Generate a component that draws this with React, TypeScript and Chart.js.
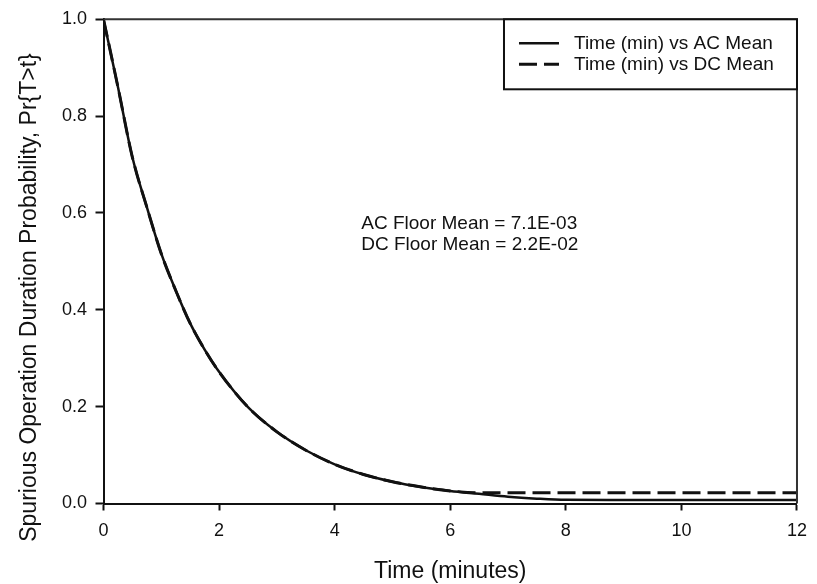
import React, { useEffect, useRef } from 'react';
import { Chart, registerables } from 'chart.js';

Chart.register(...registerables);

// ---- data ----
const timeMin = [0, 0.25, 0.5, 0.75, 1, 1.25, 1.5, 1.75, 2, 2.5, 3, 3.5, 4, 4.5, 5, 5.5, 6, 6.5, 7, 7.5, 8, 9, 10, 11, 12];
const acMean = [1.0, 0.86, 0.715, 0.612, 0.516, 0.44, 0.372, 0.318, 0.272, 0.199, 0.148, 0.11, 0.081, 0.06, 0.045, 0.034, 0.026, 0.02, 0.014, 0.01, 0.0075, 0.0071, 0.0071, 0.0071, 0.0071];
const dcMean = [1.0, 0.86, 0.715, 0.612, 0.516, 0.44, 0.372, 0.318, 0.272, 0.199, 0.148, 0.11, 0.081, 0.06, 0.045, 0.034, 0.026, 0.022, 0.022, 0.022, 0.022, 0.022, 0.022, 0.022, 0.022];
const seriesLabels = ['Time (min) vs AC Mean', 'Time (min) vs DC Mean'];
const xTickValues = [0, 2, 4, 6, 8, 10, 12];
const yTickValues = [0, 0.2, 0.4, 0.6, 0.8, 1.0];
const xTitle = 'Time (minutes)';
const yTitle = 'Spurious Operation Duration Probability, Pr{T>t}';
const annotationLines = ['AC Floor Mean = 7.1E-03', 'DC Floor Mean = 2.2E-02'];
const annotationAt = { x: 4.46, y: 0.577 };

const FONT = "'Liberation Sans', Arial, Helvetica, sans-serif";
const INK = '#111111';

const overlayPlugin = {
  id: 'overlay',
  afterDraw(chart: any) {
    const { ctx, chartArea } = chart;
    const { left, right, top, bottom } = chartArea;
    ctx.save();
    // frame top & right
    ctx.strokeStyle = '#333333';
    ctx.lineWidth = 2;
    ctx.beginPath();
    ctx.moveTo(left, top);
    ctx.lineTo(right, top);
    ctx.lineTo(right, bottom);
    ctx.stroke();

    // legend box
    const lx = right - 293;
    const ly = top;
    const lw = 293;
    const lh = 70;
    ctx.fillStyle = '#ffffff';
    ctx.fillRect(lx, ly, lw, lh);
    ctx.strokeStyle = INK;
    ctx.lineWidth = 2;
    ctx.strokeRect(lx, ly, lw, lh);
    const rows = [ly + 24, ly + 45];
    chart.data.datasets.forEach((ds: any, i: number) => {
      const y = rows[i];
      ctx.strokeStyle = ds.borderColor;
      ctx.lineWidth = ds.borderWidth;
      ctx.setLineDash(ds.borderDash || []);
      ctx.beginPath();
      ctx.moveTo(lx + 15, y);
      ctx.lineTo(lx + 55, y);
      ctx.stroke();
      ctx.setLineDash([]);
      ctx.fillStyle = INK;
      ctx.font = `19px ${FONT}`;
      ctx.textAlign = 'left';
      ctx.textBaseline = 'middle';
      ctx.fillText(ds.label, lx + 70, y);
    });

    // annotation text
    const xs = chart.scales.x;
    const ys = chart.scales.y;
    const ax = xs.getPixelForValue(annotationAt.x);
    const ay = ys.getPixelForValue(annotationAt.y);
    ctx.fillStyle = INK;
    ctx.font = `19px ${FONT}`;
    ctx.textAlign = 'left';
    ctx.textBaseline = 'middle';
    annotationLines.forEach((t, i) => ctx.fillText(t, ax, ay + i * 21));

    // y title
    ctx.save();
    ctx.translate(29.5, 297.5);
    ctx.rotate(-Math.PI / 2);
    ctx.font = `23px ${FONT}`;
    ctx.textAlign = 'center';
    ctx.textBaseline = 'middle';
    ctx.fillText(yTitle, 0, 0);
    ctx.restore();
    ctx.restore();
  },
};

export default function App() {
  const ref = useRef<HTMLCanvasElement | null>(null);
  useEffect(() => {
    if (!ref.current) return;
    const chart = new Chart(ref.current, {
      type: 'line',
      data: {
        datasets: [
          {
            label: seriesLabels[0],
            data: timeMin.map((t, i) => ({ x: t, y: acMean[i] })),
            borderColor: INK,
            borderWidth: 2.5,
            pointRadius: 0,
            cubicInterpolationMode: 'monotone',
            fill: false,
          },
          {
            label: seriesLabels[1],
            data: timeMin.map((t, i) => ({ x: t, y: dcMean[i] })),
            borderColor: INK,
            borderWidth: 3,
            borderDash: [18, 7],
            pointRadius: 0,
            cubicInterpolationMode: 'monotone',
            fill: false,
          },
        ],
      },
      options: {
        animation: false,
        responsive: false,
        layout: { padding: { top: 18, right: 17.5, left: 0, bottom: 0 } },
        plugins: { legend: { display: false }, tooltip: { enabled: false } },
        scales: {
          x: {
            type: 'linear',
            min: 0,
            max: 12,
            afterFit: (s: any) => { s.height = 80.5; },
            afterBuildTicks: (s: any) => { s.ticks = xTickValues.map((v) => ({ value: v })); },
            grid: { display: true, drawOnChartArea: false, drawTicks: true, tickLength: 7, tickWidth: 2, tickColor: INK },
            border: { display: true, color: INK, width: 2 },
            ticks: {
              color: INK,
              font: { family: FONT, size: 18 },
              padding: 10,
              maxRotation: 0,
              callback: (v: any) => String(v),
            },
            title: {
              display: true,
              text: xTitle,
              color: INK,
              font: { family: FONT, size: 23, lineHeight: 1 },
              padding: { top: 0, bottom: 0.5 },
            },
          },
          y: {
            type: 'linear',
            min: 0,
            max: 1,
            afterFit: (s: any) => { s.width = 103.5; },
            afterBuildTicks: (s: any) => { s.ticks = yTickValues.map((v) => ({ value: v })); },
            grid: { display: true, drawOnChartArea: false, drawTicks: true, tickLength: 8, tickWidth: 2, tickColor: INK },
            border: { display: true, color: INK, width: 2 },
            ticks: {
              color: INK,
              font: { family: FONT, size: 18 },
              padding: 8.5,
              callback: (v: any) => Number(v).toFixed(1),
            },
          },
        },
      },
      plugins: [overlayPlugin],
    } as any);
    return () => chart.destroy();
  }, []);
  return (
    <div style={{ position: 'absolute', left: 0, top: 0, width: 817, height: 584, background: '#ffffff' }}>
      <canvas ref={ref} width={817} height={584} style={{ display: 'block' }} />
    </div>
  );
}
